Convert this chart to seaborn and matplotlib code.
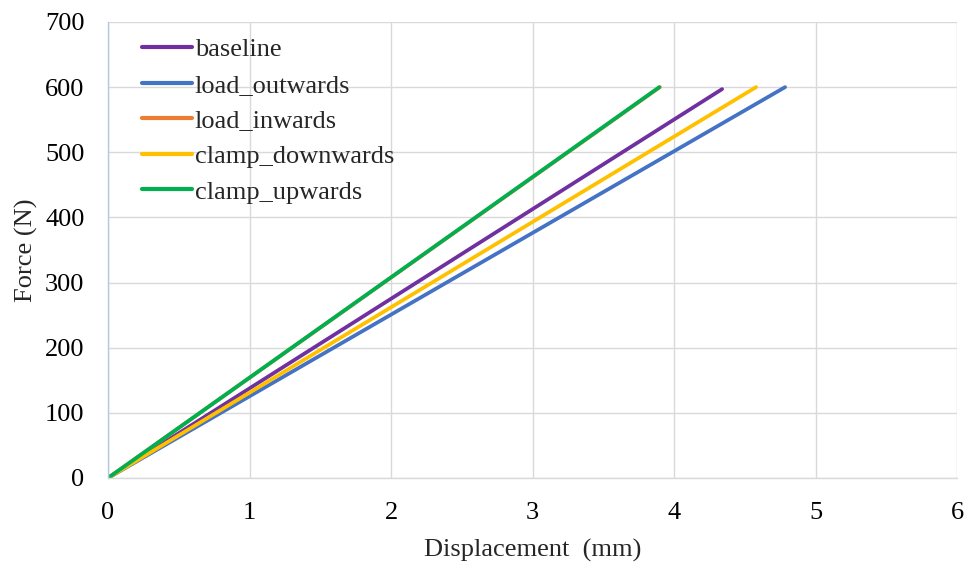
import matplotlib
matplotlib.use("Agg")
import matplotlib.pyplot as plt
import pandas as pd
import seaborn as sns

# Linear force–displacement response for each load case (start and end points)
series_names = ["baseline", "load_outwards", "load_inwards", "clamp_downwards", "clamp_upwards"]
baseline_disp = [0.0, 4.34]
baseline_force = [0.0, 597.0]
load_outwards_disp = [0.0, 4.785]
load_outwards_force = [0.0, 600.0]
load_inwards_disp = [0.0, 3.90]
load_inwards_force = [0.0, 600.0]
clamp_downwards_disp = [0.0, 4.58]
clamp_downwards_force = [0.0, 600.0]
clamp_upwards_disp = [0.0, 3.896]
clamp_upwards_force = [0.0, 600.0]

x_ticks = [0, 1, 2, 3, 4, 5, 6]
y_ticks = [0, 100, 200, 300, 400, 500, 600, 700]

colors = ["#7030A0", "#4472C4", "#ED7D31", "#FFC000", "#00B050"]

disp_lists = [baseline_disp, load_outwards_disp, load_inwards_disp,
              clamp_downwards_disp, clamp_upwards_disp]
force_lists = [baseline_force, load_outwards_force, load_inwards_force,
               clamp_downwards_force, clamp_upwards_force]

frames = []
for name, d, f in zip(series_names, disp_lists, force_lists):
    frames.append(pd.DataFrame({"Displacement": d, "Force": f, "case": name}))
df = pd.concat(frames, ignore_index=True)

sns.set_theme(style="white")
plt.rcParams["font.family"] = ["Liberation Serif", "DejaVu Serif"]

FS = 19

fig = plt.figure(figsize=(9.66, 5.62), dpi=100)
ax = fig.add_axes([108 / 966, 84 / 562, (957 - 108) / 966, (478 - 22) / 562])

sns.lineplot(data=df, x="Displacement", y="Force", hue="case",
             hue_order=series_names, palette=colors, linewidth=2.7,
             estimator=None, sort=False, ax=ax)

ax.set_xlim(0, 6)
ax.set_ylim(0, 700)
ax.set_xticks(x_ticks)
ax.set_yticks(y_ticks)
ax.tick_params(axis="both", labelsize=FS, colors="black", length=0)
ax.tick_params(axis="x", pad=17)
ax.tick_params(axis="y", pad=17)
ax.grid(True, color="#D9D9D9", linewidth=1.0)
ax.set_axisbelow(True)
for side in ["top", "right"]:
    ax.spines[side].set_visible(False)
ax.spines["left"].set_color("#B4C7E7")
ax.spines["bottom"].set_color("#D9D9D9")
ax.spines["left"].set_linewidth(1.0)
ax.spines["bottom"].set_linewidth(1.0)

ax.set_xlabel("Displacement  (mm)", fontsize=FS, labelpad=11)
ax.set_ylabel("Force (N)", fontsize=FS, labelpad=5)

leg = ax.legend(loc="upper left", bbox_to_anchor=(0.018, 1.006), frameon=False,
                fontsize=FS, handlelength=1.9, handletextpad=0.1,
                labelspacing=0.46, borderaxespad=0.3)
for line in leg.get_lines():
    line.set_linewidth(3.0)

fig.savefig("out.png", dpi=100)
